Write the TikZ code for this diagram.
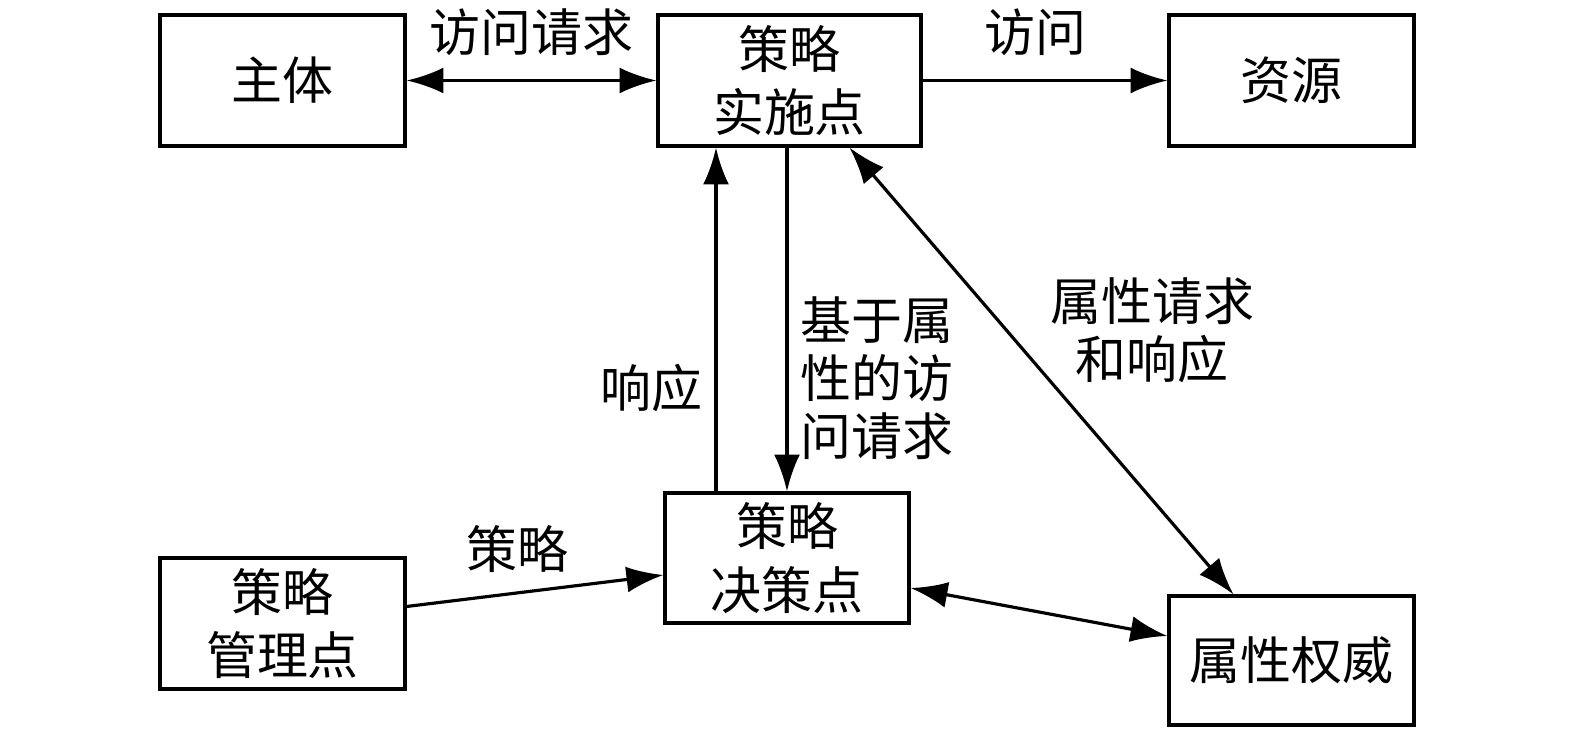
\documentclass[tikz,border=0pt]{standalone}
\usepackage{fontspec}
\setmainfont{Noto Sans CJK SC}
\usetikzlibrary{arrows.meta,positioning}

\begin{document}
\begin{tikzpicture}
[box/.style={draw,line width=0.9pt,minimum width=2.45cm,minimum height=1.31cm,
  align=center,inner sep=0pt,font=\fontsize{14.5pt}{18pt}\selectfont},
arr/.style={line width=0.9pt,-{Latex[length=10.5pt,width=7.4pt]}},
dbl/.style={line width=0.9pt,{Latex[length=10.5pt,width=7.4pt]}-{Latex[length=10.5pt,width=7.4pt]}},
lbl/.style={font=\fontsize{14.5pt}{16.5pt}\selectfont,align=center}]
%%%%%%%%%%
\useasboundingbox (0,0) rectangle (15.75,7.30);

%% top row
\node[box] (zhuti) at (2.825,6.495) {主体};
\node[box,minimum width=2.63cm] (pep) at (7.895,6.495) {策略\\实施点};
\node[box] (ziyuan) at (12.915,6.495) {资源};

%% bottom row
\node[box,minimum width=2.44cm,minimum height=1.30cm] (pdp) at (7.87,1.72) {策略\\决策点};
\node[box] (pap) at (2.825,1.065) {策略\\管理点};
\node[box,minimum height=1.29cm] (attr) at (12.915,0.695) {属性权威};
%%%%%%%%%%

\draw[dbl] (zhuti) -- node[lbl,yshift=0.48cm] {访问请求} (pep);
\draw[arr] (pep) -- node[lbl,yshift=0.48cm,xshift=-0.1cm] {访问} (ziyuan);

\draw[arr] ([xshift=-0.71cm]pdp.north) -- node[lbl,pos=0.3,left] {响应}
  ([xshift=-0.71cm]pdp.north |- pep.south);
\draw[arr] (pep.south -| pdp.north) -- node[lbl,pos=0.67,right,align=left]
  {基于属\\性的访\\问请求} (pdp.north);
\draw[dbl] ([xshift=0.6cm]pep.south) -- node[lbl,pos=0.41,anchor=west,xshift=0.3cm]
  {属性请求\\和响应} ([xshift=-0.58cm]attr.north);

\draw[arr] ([yshift=0.17cm]pap.east) -- node[lbl,xshift=-0.18cm,yshift=0.42cm] {策略}
  ([yshift=-0.17cm]pdp.west);
\draw[dbl] ([yshift=-0.30cm]pdp.east) -- ([yshift=0.245cm]attr.west);
\end{tikzpicture}
\end{document}
